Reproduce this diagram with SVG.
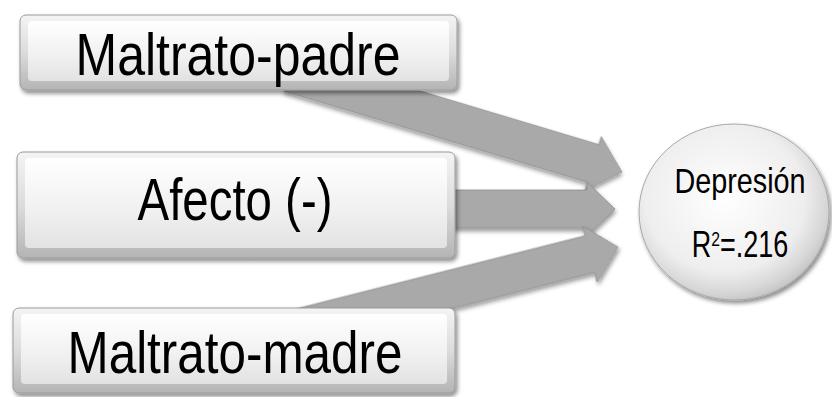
<svg xmlns="http://www.w3.org/2000/svg" width="832" height="397" viewBox="0 0 832 397">
<defs>
  <linearGradient id="boxOuter" x1="0" y1="0" x2="0" y2="1">
    <stop offset="0" stop-color="#f4f4f4"/>
    <stop offset="0.5" stop-color="#dcdcdc"/>
    <stop offset="1" stop-color="#b4b4b4"/>
  </linearGradient>
  <linearGradient id="boxInner" x1="0" y1="0" x2="0" y2="1">
    <stop offset="0" stop-color="#ffffff"/>
    <stop offset="0.6" stop-color="#f0f0f0"/>
    <stop offset="1" stop-color="#e2e2e2"/>
  </linearGradient>
  <radialGradient id="circFill" cx="0.45" cy="0.42" r="0.6">
    <stop offset="0" stop-color="#ffffff"/>
    <stop offset="0.7" stop-color="#eeeeee"/>
    <stop offset="0.9" stop-color="#d6d6d6"/>
    <stop offset="1" stop-color="#c2c2c2"/>
  </radialGradient>
  <filter id="shadow" x="-10%" y="-20%" width="125%" height="150%">
    <feDropShadow dx="2" dy="3" stdDeviation="2" flood-color="#000" flood-opacity="0.45"/>
  </filter>
  <filter id="ashadow" x="-10%" y="-30%" width="125%" height="160%">
    <feDropShadow dx="1" dy="3" stdDeviation="2" flood-color="#000" flood-opacity="0.4"/>
  </filter>
</defs>
<style>
  .arrow { fill: #a9a9a9; stroke: #8e8e8e; stroke-width: 0.8; filter: url(#ashadow); }
  .outer { fill: url(#boxOuter); stroke: #9a9a9a; stroke-width: 1; filter: url(#shadow); }
  .inner { fill: url(#boxInner); }
  .lbl { font-family: "Liberation Sans", Arial, sans-serif; font-size: 60px; fill: #000; text-anchor: middle; }
  .clbl { font-family: "Liberation Sans", Arial, sans-serif; font-size: 36px; fill: #000; text-anchor: middle; }
</style>

<g id="connectors">
  <polygon class="arrow" transform="translate(622,172) rotate(16.7)" points="-347,-19.6 -30,-19.6 -30,-28 0,0 -30,28 -30,19.6 -347,19.6"/>
  <polygon class="arrow" transform="translate(615,209)" points="-175,-19 -28,-19 -28,-27 0,0 -28,27 -28,19 -175,19"/>
  <polygon class="arrow" transform="translate(618,247) rotate(-14.2)" points="-328,-19 -29,-19 -29,-29 0,0 -29,29 -29,19 -328,19"/>
</g>

<g id="node-maltrato-padre">
  <rect class="outer" x="20" y="15" width="437" height="75" rx="6"/>
  <rect class="inner" x="28" y="21" width="421" height="60" rx="4"/>
  <text class="lbl" x="238" y="75" textLength="325" lengthAdjust="spacingAndGlyphs">Maltrato-padre</text>
</g>

<g id="node-afecto">
  <rect class="outer" x="17" y="152" width="438" height="106" rx="6"/>
  <rect class="inner" x="25" y="158" width="422" height="90" rx="4"/>
  <text class="lbl" x="235" y="220" textLength="195" lengthAdjust="spacingAndGlyphs">Afecto (-)</text>
</g>

<g id="node-maltrato-madre">
  <rect class="outer" x="13" y="308" width="442" height="85" rx="6"/>
  <rect class="inner" x="21" y="314" width="426" height="70" rx="4"/>
  <text class="lbl" x="235" y="373" textLength="335" lengthAdjust="spacingAndGlyphs">Maltrato-madre</text>
</g>

<g id="node-depresion">
  <ellipse cx="734" cy="212" rx="95" ry="88" fill="url(#circFill)" stroke="#a8a8a8" stroke-width="1" filter="url(#shadow)"/>
  <text class="clbl" transform="translate(740,193) scale(0.8,1)" x="0" y="0">Depresión</text>
  <text class="clbl" transform="translate(740,257) scale(0.75,1)" x="0" y="0">R<tspan font-size="21" baseline-shift="super">2</tspan>=.216</text>
</g>
</svg>
